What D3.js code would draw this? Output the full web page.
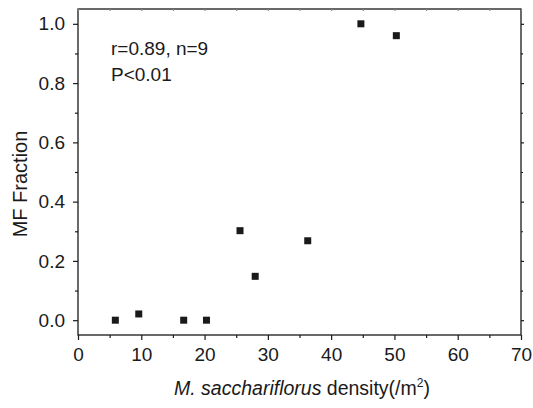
<!DOCTYPE html>
<html>
<head>
<meta charset="utf-8">
<script src="https://cdn.jsdelivr.net/npm/d3@7"></script>
<style>
html,body{margin:0;padding:0;background:#fff;}
svg{display:block;font-family:"Liberation Sans",Arial,sans-serif;}
</style>
</head>
<body>
<svg id="chart" width="533" height="408"></svg>
<script>
const densityX = [5.9, 9.6, 16.7, 20.3, 25.6, 28.0, 36.3, 44.7, 50.3];
const mfFraction = [0.0, 0.021, 0.0, 0.0, 0.302, 0.148, 0.268, 1.0, 0.96];
const xTicks = [0, 10, 20, 30, 40, 50, 60, 70];
const yTicks = [0.0, 0.2, 0.4, 0.6, 0.8, 1.0];
const xMinor = [5, 15, 25, 35, 45, 55, 65];
const yMinor = [0.1, 0.3, 0.5, 0.7, 0.9];
const statLines = ["r=0.89, n=9", "P<0.01"];

const svg = d3.select("#chart");
const L = 78, R = 521, T = 9, B = 335;
const x = d3.scaleLinear().domain([0, 70]).range([L, R]);
const y = d3.scaleLinear().domain([-0.05, 1.05]).range([B, T]);
const ink = "#1a1a1a";
const fs = 19;

// frame
svg.append("rect").attr("x", L).attr("y", T).attr("width", R - L).attr("height", B - T)
  .attr("fill", "none").attr("stroke", ink).attr("stroke-width", 1.3);

function styleAxis(g) {
  g.select(".domain").remove();
  g.selectAll("line").attr("stroke", ink).attr("stroke-width", 1.2);
  g.selectAll("text").attr("fill", ink).style("font-size", fs + "px")
    .style("font-family", '"Liberation Sans", Arial, sans-serif');
}

// bottom axis
svg.append("g").attr("transform", `translate(0,${B})`)
  .call(d3.axisBottom(x).tickValues(xTicks).tickFormat(d3.format("d")).tickSize(5).tickPadding(8))
  .call(styleAxis);
svg.append("g").attr("transform", `translate(0,${B})`)
  .call(d3.axisBottom(x).tickValues(xMinor).tickFormat("").tickSize(3))
  .call(styleAxis);
// top axis (small inward ticks)
svg.append("g").attr("transform", `translate(0,${T})`)
  .call(d3.axisBottom(x).tickValues(xTicks.concat(xMinor)).tickFormat("").tickSize(2))
  .call(styleAxis).selectAll("line").attr("stroke", "#888");

// left axis
svg.append("g").attr("transform", `translate(${L},0)`)
  .call(d3.axisLeft(y).tickValues(yTicks).tickFormat(d3.format(".1f")).tickSize(5).tickPadding(8))
  .call(styleAxis);
svg.append("g").attr("transform", `translate(${L},0)`)
  .call(d3.axisLeft(y).tickValues(yMinor).tickFormat("").tickSize(3))
  .call(styleAxis);
// right axis
svg.append("g").attr("transform", `translate(${R},0)`)
  .call(d3.axisRight(y).tickValues(yTicks).tickFormat("").tickSize(3))
  .call(styleAxis);
svg.append("g").attr("transform", `translate(${R},0)`)
  .call(d3.axisRight(y).tickValues(yMinor).tickFormat("").tickSize(2))
  .call(styleAxis);

// points
const ms = 7;
svg.append("g").selectAll("rect").data(densityX.map((d, i) => [d, mfFraction[i]]))
  .join("rect")
  .attr("x", d => x(d[0]) - ms / 2).attr("y", d => y(d[1]) - ms / 2)
  .attr("width", ms).attr("height", ms).attr("fill", ink);

// stats text
svg.append("g").selectAll("text").data(statLines).join("text")
  .attr("x", 111).attr("y", (d, i) => 55 + i * 26)
  .attr("fill", ink).style("font-size", fs + "px").text(d => d);

// y title
svg.append("text").attr("transform", `translate(27,184) rotate(-90)`)
  .attr("text-anchor", "middle").attr("fill", ink).style("font-size", "20px").text("MF Fraction");

// x title
const xt = svg.append("text").attr("x", 302).attr("y", 395).attr("text-anchor", "middle")
  .attr("fill", ink).style("font-size", "19.5px");
xt.append("tspan").style("font-style", "italic").text("M. sacchariflorus");
xt.append("tspan").text(" density(/m");
xt.append("tspan").attr("dy", -8).style("font-size", "12px").text("2");
xt.append("tspan").attr("dy", 8).text(")");
</script>
</body>
</html>
